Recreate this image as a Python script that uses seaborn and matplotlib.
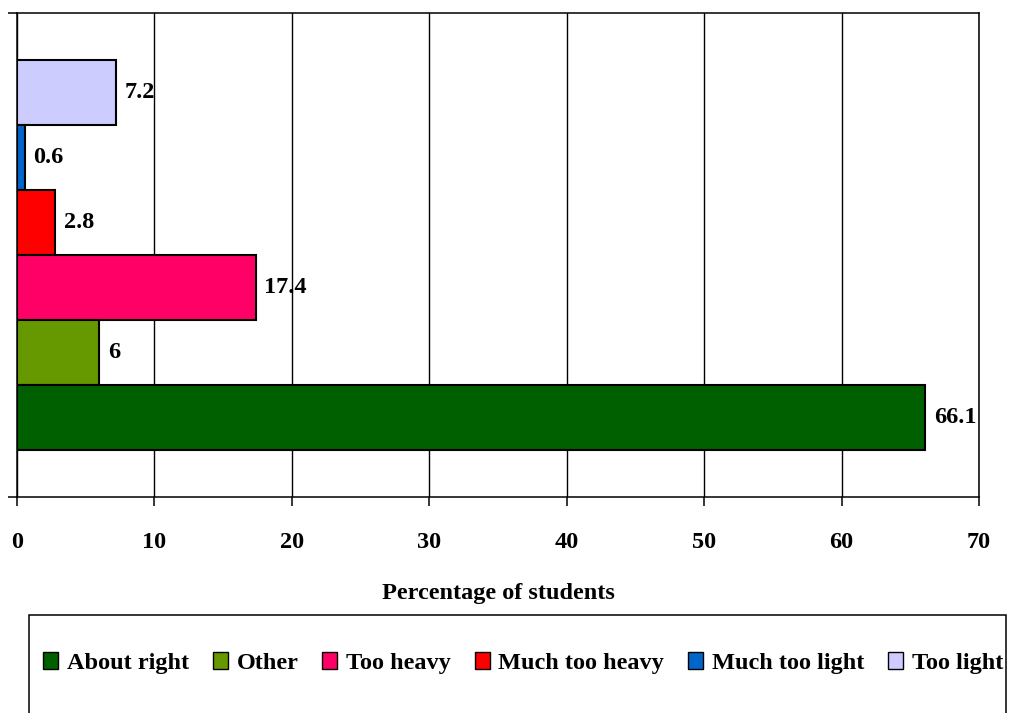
"""Horizontal bar chart: how students rate their school bag weight."""

import matplotlib

matplotlib.use("Agg")
import matplotlib.pyplot as plt
import pandas as pd
import seaborn as sns
from matplotlib.patches import Patch, Rectangle

# bars listed from top to bottom as drawn
responses = ["Too light", "Much too light", "Much too heavy", "Too heavy", "Other", "About right"]
percentages = [7.2, 0.6, 2.8, 17.4, 6, 66.1]
bar_colors = ["#CCCCFF", "#0066CC", "#FF0000", "#FF0066", "#669900", "#006000"]
legend_order = ["About right", "Other", "Too heavy", "Much too heavy", "Much too light", "Too light"]
x_ticks = [0, 10, 20, 30, 40, 50, 60, 70]
x_label = "Percentage of students"


def main() -> None:
    sns.set_style("white")
    plt.rcParams["font.family"] = ["Liberation Serif", "DejaVu Serif"]
    plt.rcParams["font.weight"] = "bold"
    plt.rcParams["text.color"] = "black"
    plt.rcParams["axes.labelcolor"] = "black"
    plt.rcParams["xtick.color"] = "black"
    plt.rcParams["ytick.color"] = "black"
    fs = 17.5

    df = pd.DataFrame({"group": "all", "response": responses, "pct": percentages})
    palette = dict(zip(responses, bar_colors))

    fig = plt.figure(figsize=(10.09, 7.13), dpi=100)
    ax = fig.add_axes([17 / 1009, 1 - 497 / 713, (979 - 17) / 1009, (497 - 13) / 713])

    sns.barplot(
        data=df, x="pct", y="group", hue="response", hue_order=responses,
        palette=palette, orient="h", width=0.806, edgecolor="black",
        linewidth=1.5, saturation=1, legend=False, ax=ax,
    )

    for cont, v in zip(ax.containers, percentages):
        ax.bar_label(cont, labels=[f"{v:g}"], padding=6, fontsize=fs,
                     fontweight="bold", color="black")

    ax.set_xlim(0, 70)
    ax.set_ylim(0.5, -0.5)
    ax.set_xticks(x_ticks)
    ax.set_xticklabels([str(t) for t in x_ticks], fontsize=fs, fontweight="bold")
    ax.set_yticks([-0.5, 0.5])
    ax.set_yticklabels(["", ""])
    ax.tick_params(axis="both", direction="out", length=6.5, width=1.1,
                   color="black", left=True, bottom=True)
    ax.tick_params(axis="x", pad=19)
    ax.set_xlabel(x_label, fontsize=fs, fontweight="bold", labelpad=21)
    ax.set_ylabel("")

    ax.grid(axis="x", color="black", linewidth=1.0)
    ax.set_axisbelow(True)
    for side in ["left", "right", "top", "bottom"]:
        ax.spines[side].set_visible(True)
        ax.spines[side].set_color("black")
        ax.spines[side].set_linewidth(1.1)

    handles = [Patch(facecolor=palette[r], edgecolor="black", linewidth=1.0) for r in legend_order]
    fig.legend(
        handles, legend_order, loc="center", bbox_to_anchor=(523 / 1009, 1 - 663 / 713),
        ncol=6, frameon=False, prop={"size": fs, "weight": "bold"},
        handlelength=0.63, handleheight=0.7, handletextpad=0.35, columnspacing=0.98,
        borderaxespad=0,
    )
    fig.patches.append(Rectangle(
        (29 / 1009, -0.05), (1006 - 29) / 1009, 1 - 615 / 713 + 0.05,
        transform=fig.transFigure, fill=False, edgecolor="black", linewidth=1.1,
    ))

    fig.savefig("out.png", dpi=100)
    plt.close(fig)


if __name__ == "__main__":
    main()
